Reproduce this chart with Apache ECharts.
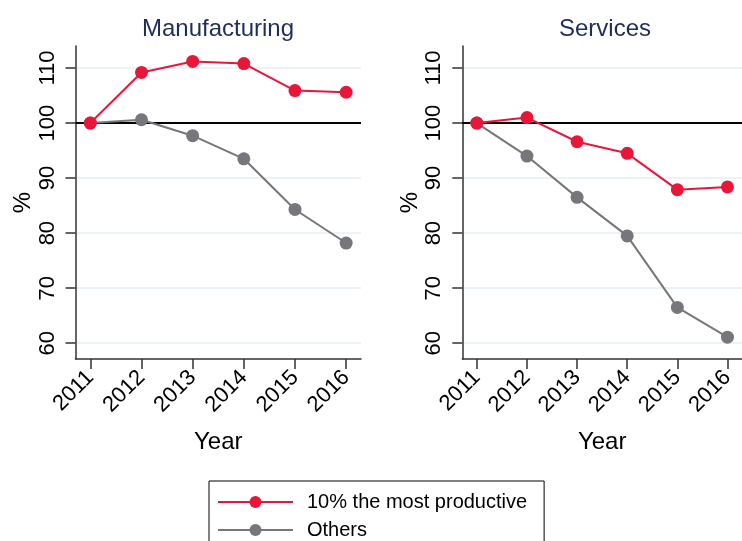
<!DOCTYPE html>
<html>
<head>
<meta charset="utf-8">
<script src="https://cdn.jsdelivr.net/npm/echarts@6/dist/echarts.min.js"></script>
<style>
  html, body { margin: 0; padding: 0; background: #fff; }
  #chart { width: 742px; height: 541px; }
</style>
</head>
<body>
<div id="chart"></div>
<script>
// years on the x axis
const years = [2011, 2012, 2013, 2014, 2015, 2016];
const yTicks = [60, 70, 80, 90, 100, 110];

// Manufacturing panel
const manufTop = [100, 109.2, 111.2, 110.8, 105.9, 105.6];
const manufOthers = [100, 100.6, 97.7, 93.5, 84.3, 78.2];

// Services panel
const servTop = [100, 101.0, 96.6, 94.5, 87.9, 88.4];
const servOthers = [100, 94.0, 86.5, 79.5, 66.5, 61.1];

const topName = "10% the most productive";
const othersName = "Others";
const RED = "#e8173a";
const GREY = "#76767b";
const FONT = "Liberation Sans, Arial, sans-serif";

const chart = echarts.init(document.getElementById("chart"));

function pairs(vals) {
  return years.map((y, i) => [y, vals[i]]);
}

function xAxisFor(idx) {
  return {
    type: "value",
    gridIndex: idx,
    min: 2010.71,
    max: 2016.29,
    name: "Year",
    nameLocation: "middle",
    nameGap: 71,
    nameTextStyle: { fontSize: 24, color: "#000", fontFamily: FONT },
    axisLine: { lineStyle: { color: "#333", width: 1.5 } },
    axisTick: { customValues: years, length: 10, lineStyle: { color: "#333", width: 1.5 } },
    axisLabel: {
      customValues: years,
      formatter: (v) => String(v),
      rotate: 45,
      margin: 15,
      fontSize: 22,
      color: "#000",
      fontFamily: FONT,
    },
    splitLine: { show: false },
  };
}

function yAxisFor(idx) {
  return {
    type: "value",
    gridIndex: idx,
    min: 57.13,
    max: 114,
    name: "%",
    nameLocation: "middle",
    nameGap: 39,
    nameTextStyle: { fontSize: 24, color: "#000", fontFamily: FONT },
    axisLine: { show: true, lineStyle: { color: "#333", width: 1.5 } },
    axisTick: { show: true, customValues: yTicks, length: 10, lineStyle: { color: "#333", width: 1.5 } },
    axisLabel: {
      customValues: yTicks,
      rotate: 90,
      margin: 17,
      fontSize: 22,
      color: "#000",
      fontFamily: FONT,
    },
    splitLine: { show: true, lineStyle: { color: "#e6eff2", width: 1.5 } },
  };
}

function lineSeries(name, vals, color, idx, withRef) {
  const s = {
    name: name,
    type: "line",
    xAxisIndex: idx,
    yAxisIndex: idx,
    data: pairs(vals),
    symbol: "circle",
    symbolSize: 13,
    color: color,
    lineStyle: { color: color, width: 2 },
    itemStyle: { color: color },
    animation: false,
    z: name === topName ? 4 : 3,
  };
  if (withRef) {
    s.markLine = {
      silent: true,
      symbol: "none",
      label: { show: false },
      lineStyle: { color: "#000", width: 2, type: "solid" },
      data: [{ yAxis: 100 }],
      z: 2,
    };
  }
  return s;
}

chart.setOption({
  backgroundColor: "#fff",
  textStyle: { fontFamily: FONT },
  title: [
    {
      text: "Manufacturing",
      left: 213,
      top: 12,
      textAlign: "center",
      textStyle: { fontSize: 24, fontWeight: "normal", color: "#1e2d5a", fontFamily: FONT },
    },
    {
      text: "Services",
      left: 600,
      top: 12,
      textAlign: "center",
      textStyle: { fontSize: 24, fontWeight: "normal", color: "#1e2d5a", fontFamily: FONT },
    },
  ],
  grid: [
    { left: 75.5, right: 381, top: 46, bottom: 182 },
    { left: 462.3, right: -6.6, top: 46, bottom: 182 },
  ],
  legend: {
    orient: "vertical",
    left: 209,
    top: 481,
    width: 335,
    height: 80,
    padding: [11, 17, 10, 8],
    borderColor: "#000",
    borderWidth: 1,
    itemWidth: 75,
    itemHeight: 15,
    itemGap: 8,
    textStyle: { fontSize: 20, color: "#000", fontFamily: FONT, padding: [0, 0, 0, 9] },
    data: [topName, othersName],
  },
  xAxis: [xAxisFor(0), xAxisFor(1)],
  yAxis: [yAxisFor(0), yAxisFor(1)],
  series: [
    lineSeries(othersName, manufOthers, GREY, 0, true),
    lineSeries(topName, manufTop, RED, 0, false),
    lineSeries(othersName, servOthers, GREY, 1, true),
    lineSeries(topName, servTop, RED, 1, false),
  ],
});
</script>
</body>
</html>
